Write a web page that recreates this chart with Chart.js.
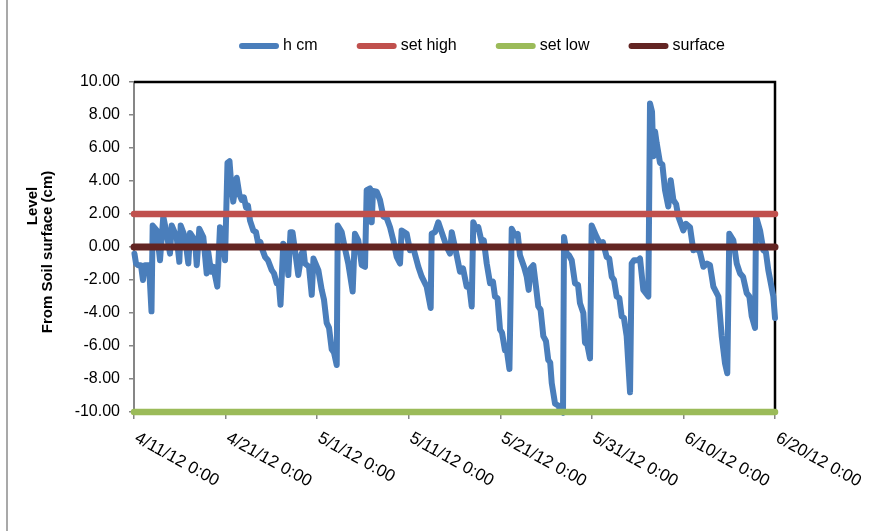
<!DOCTYPE html>
<html><head><meta charset="utf-8">
<script src="https://cdn.jsdelivr.net/npm/chart.js@4.4.1/dist/chart.umd.min.js"></script>
<style>html,body{margin:0;padding:0;background:#fff;}#wrap{position:relative;width:896px;height:531px;}canvas{display:block;}</style>
</head><body><div id="wrap"><canvas id="c" width="896" height="531"></canvas></div>
<script>
// ---- data ----
const xTickValues = [0, 10, 20, 30, 40, 50, 60, 70];
const xTickLabels = ['4/11/12 0:00', '4/21/12 0:00', '5/1/12 0:00', '5/11/12 0:00', '5/21/12 0:00', '5/31/12 0:00', '6/10/12 0:00', '6/20/12 0:00'];
const yTickValues = [-10, -8, -6, -4, -2, 0, 2, 4, 6, 8, 10];
const yTitleLines = ['Level', 'From Soil surface (cm)'];
const seriesNames = ['h cm', 'set high', 'set low', 'surface'];
const seriesColors = ['#4A7EBB', '#C0504D', '#9BBB59', '#632523'];
// days since 4/11/12 0:00
const hDays = [0.05,0.22,0.44,0.76,0.98,1.2,1.64,1.91,2.04,2.48,2.84,3.2,3.57,3.93,4.12,4.66,4.95,5.1,5.57,5.93,6.12,6.66,6.85,7.13,7.57,7.94,8.11,8.41,8.66,9.1,9.39,9.66,9.94,10.21,10.43,10.59,10.84,11.22,11.5,11.76,12.01,12.23,12.45,12.67,13.03,13.32,13.57,13.8,13.98,14.31,14.63,15.04,15.29,15.58,15.8,16.0,16.3,16.49,16.68,16.85,17.09,17.31,17.58,17.94,18.31,18.51,18.67,19.11,19.41,19.6,20.13,20.5,20.75,21.04,21.3,21.59,21.84,22.14,22.25,22.68,23.04,23.4,23.88,24.13,24.49,24.87,25.23,25.41,25.77,25.96,26.1,26.5,26.86,27.23,27.6,27.96,28.32,28.69,29.05,29.23,29.78,30.14,30.47,31.05,31.42,31.96,32.4,32.51,32.87,33.23,33.6,34.15,34.51,34.7,35.24,35.6,35.93,36.33,36.6,36.88,37.05,37.35,37.6,37.97,38.2,38.52,38.88,39.2,39.42,39.7,39.97,40.19,40.51,40.7,41.0,41.25,41.61,41.9,42.15,42.59,42.89,43.1,43.3,43.61,43.9,44.15,44.4,44.7,44.99,45.24,45.45,45.62,45.98,46.3,46.6,46.85,46.96,47.25,47.5,47.8,48.16,48.49,48.7,49.07,49.25,49.5,49.8,49.98,50.53,50.89,51.2,51.62,51.9,52.17,52.42,52.71,53.0,53.26,53.5,53.8,54.17,54.35,54.6,55.07,55.26,55.62,56.17,56.35,56.57,56.71,56.9,57.08,57.44,57.7,57.99,58.35,58.61,58.9,59.2,59.44,59.99,60.28,60.72,61.08,61.49,61.8,62.18,62.58,62.9,63.27,63.82,64.18,64.54,64.79,65.01,65.45,65.82,66.18,66.51,66.91,67.2,67.46,67.82,67.93,68.37,68.73,69.0,69.27,69.82,70.0];
const hValues = [-0.4,-1.0,-1.1,-1.1,-2.0,-1.1,-1.1,-3.9,1.3,1.0,-0.8,1.85,0.8,-0.4,1.3,0.6,-0.9,1.3,0.6,-1.0,0.85,0.4,-1.1,1.1,0.6,-1.6,-0.3,-1.5,-1.2,-2.4,1.2,0.9,-0.8,5.1,5.2,4.0,2.75,4.2,3.2,2.85,3.0,2.4,2.5,1.6,1.0,0.9,0.2,0.3,-0.1,-0.6,-0.8,-1.4,-1.6,-2.2,-2.1,-3.5,0.2,0.0,-0.3,-1.7,0.9,0.9,-0.2,-1.7,-0.4,-0.2,-1.0,-1.2,-2.9,-0.7,-1.4,-2.6,-3.2,-4.6,-4.9,-6.2,-6.4,-7.15,1.3,0.9,-0.1,-1.0,-2.7,0.8,0.4,-1.1,-1.2,3.45,3.55,1.5,3.4,3.35,2.85,1.85,1.75,1.2,0.4,-0.6,-1.0,1.0,0.8,-0.2,0.0,-1.2,-1.8,-2.4,-3.7,0.8,0.9,1.5,0.9,0.0,-0.4,0.9,-0.5,-1.5,-1.3,-2.4,-2.3,-3.6,1.5,1.1,1.2,0.3,0.4,-1.0,-2.2,-2.1,-3.0,-3.1,-5.0,-5.2,-6.25,-6.2,-7.4,1.1,0.7,0.8,-0.5,-1.2,-1.8,-2.6,-1.3,-1.1,-2.4,-3.6,-3.8,-5.4,-5.7,-6.85,-7.0,-8.25,-9.5,-9.6,-9.9,-10.05,0.6,-0.4,-0.5,-0.8,-2.2,-2.3,-3.4,-4.0,-5.8,-5.9,-6.75,1.3,0.6,0.2,0.3,-0.6,-0.7,-1.8,-2.0,-3.0,-3.1,-4.2,-4.3,-5.4,-8.8,-1.0,-0.8,-0.8,-0.7,-2.6,-3.0,8.7,8.2,5.5,7.0,6.3,5.1,5.0,3.45,2.45,4.05,2.85,2.6,1.85,1.0,1.4,1.2,-0.2,-0.1,-0.3,-1.2,-1.0,-1.1,-2.4,-3.0,-5.4,-7.05,-7.65,0.8,0.4,-1.0,-1.6,-1.8,-2.8,-3.0,-4.2,-4.9,1.85,1.0,-0.2,-0.3,-1.4,-3.0,-4.3];
const refDays = [0, 70];
const setHighValues = [2, 2];
const setLowValues = [-10, -10];
const surfaceValues = [0, 0];

// ---- helpers ----
const FONT = '"Liberation Sans", Arial, sans-serif';
function series(i, xs, ys, width, order) {
  return {
    label: seriesNames[i],
    data: xs.map((x, k) => ({ x: x, y: ys[k] })),
    borderColor: seriesColors[i], backgroundColor: seriesColors[i],
    borderWidth: width, pointRadius: 0, pointHoverRadius: 0, tension: 0, fill: false,
    borderCapStyle: 'round', borderJoinStyle: 'round', order: order, clip: 6
  };
}

const decor = {
  id: 'decor',
  beforeDraw(chart) {
    const ctx = chart.ctx;
    ctx.save();
    ctx.fillStyle = '#fff';
    ctx.fillRect(0, 0, chart.width, chart.height);
    ctx.strokeStyle = '#8c8c8c';
    ctx.lineWidth = 1.5;
    ctx.beginPath(); ctx.moveTo(7, 0); ctx.lineTo(7, chart.height); ctx.stroke();
    ctx.restore();
  },
  beforeDatasetsDraw(chart) {
    const ctx = chart.ctx, a = chart.chartArea;
    ctx.save();
    ctx.strokeStyle = '#000'; ctx.lineWidth = 2.5;
    ctx.beginPath(); ctx.moveTo(a.left, a.top); ctx.lineTo(a.right, a.top); ctx.lineTo(a.right, a.bottom); ctx.stroke();
    ctx.restore();
  },
  afterDraw(chart) {
    const ctx = chart.ctx, xs = chart.scales.x;
    ctx.save();
    // rotated x-axis labels
    ctx.font = '17px ' + FONT; ctx.fillStyle = '#000';
    xTickValues.forEach((v, i) => {
      const px = xs.getPixelForValue(v);
      ctx.save();
      ctx.translate(px + 2, xs.top + 25);
      ctx.rotate(29 * Math.PI / 180);
      ctx.textAlign = 'left'; ctx.textBaseline = 'middle';
      ctx.fillText(xTickLabels[i], 0, 0);
      ctx.restore();
    });
    // y-axis title (two lines)
    ctx.font = 'bold 15px ' + FONT;
    ctx.textAlign = 'center'; ctx.textBaseline = 'middle';
    [[33, 206], [48, 252]].forEach((p, i) => {
      ctx.save(); ctx.translate(p[0], p[1]); ctx.rotate(-Math.PI / 2);
      ctx.fillText(yTitleLines[i], 0, 0); ctx.restore();
    });
    // legend
    ctx.font = '16px ' + FONT;
    const sw = 40, gap = 4, spacing = 39;
    const widths = seriesNames.map(n => ctx.measureText(n).width);
    const total = widths.reduce((s, w) => s + sw + gap + w, 0) + spacing * (seriesNames.length - 1);
    let x = 482 - total / 2;
    const y = 46;
    seriesNames.forEach((n, i) => {
      ctx.strokeStyle = seriesColors[i]; ctx.lineWidth = 6; ctx.lineCap = 'round';
      ctx.beginPath(); ctx.moveTo(x + 3, y); ctx.lineTo(x + sw - 3, y); ctx.stroke();
      ctx.textAlign = 'left'; ctx.textBaseline = 'middle';
      ctx.fillText(n, x + sw + gap, y);
      x += sw + gap + widths[i] + spacing;
    });
    ctx.restore();
  }
};

new Chart(document.getElementById('c'), {
  type: 'line',
  data: {
    datasets: [
      series(0, hDays, hValues, 6, 4),
      series(1, refDays, setHighValues, 6.5, 3),
      series(2, refDays, setLowValues, 6.5, 2),
      series(3, refDays, surfaceValues, 7, 1)
    ]
  },
  options: {
    responsive: false, animation: false, devicePixelRatio: 1,
    layout: { padding: { left: 0, right: 121, top: 82, bottom: 0 } },
    plugins: { legend: { display: false }, tooltip: { enabled: false } },
    scales: {
      x: {
        type: 'linear', min: 0, max: 70,
        afterBuildTicks: s => { s.ticks = xTickValues.map(v => ({ value: v })); },
        afterFit: s => { s.height = 119; },
        ticks: { display: false },
        grid: { display: true, drawOnChartArea: false, drawTicks: true, tickLength: 7, color: '#868686', lineWidth: 1.5 },
        border: { display: true, color: '#868686', width: 1.5 }
      },
      y: {
        min: -10, max: 10,
        afterBuildTicks: s => { s.ticks = yTickValues.map(v => ({ value: v })); },
        afterFit: s => { s.width = 134; },
        ticks: { callback: v => Number(v).toFixed(2), color: '#000', font: { family: FONT, size: 16 }, padding: 9 },
        grid: { display: true, drawOnChartArea: false, drawTicks: true, tickLength: 5, color: '#868686', lineWidth: 1.5 },
        border: { display: true, color: '#868686', width: 2 },
        title: { display: false }
      }
    }
  },
  plugins: [decor]
});
</script></body></html>
